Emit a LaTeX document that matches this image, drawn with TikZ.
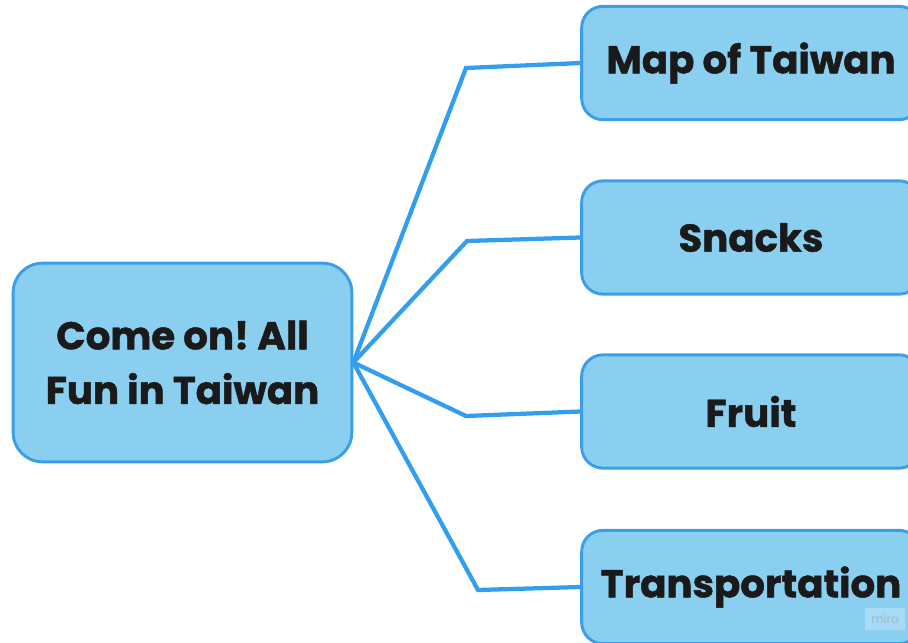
\documentclass[tikz,border=0pt]{standalone}
\usepackage{fontspec}
\setmainfont{Poppins}
\newfontfamily\heavyfont{Poppins}[BoldFeatures={FakeBold=1.2}]
\definecolor{boxfill}{HTML}{8ACFF0}
\definecolor{boxline}{HTML}{3A9FE8}
\definecolor{wire}{HTML}{349EEE}
\definecolor{ink}{HTML}{1A1A1A}
\tikzset{
  topic/.style={draw=boxline, line width=2.2pt, fill=boxfill, text=ink,
    font=\heavyfont\fontsize{29}{41}\selectfont\bfseries\frenchspacing, align=center, inner sep=0pt},
  maintopic/.style={topic, rounded corners=22pt, minimum width=254pt, minimum height=149pt},
  subtopic/.style={topic, rounded corners=16pt, minimum width=254pt, minimum height=85pt},
  wireline/.style={draw=wire, line width=3.2pt, line join=miter}
}
\begin{document}
\begin{tikzpicture}[x=0.75pt, y=-0.75pt]
\useasboundingbox (0,0) rectangle (908,643);
\clip (0,0) rectangle (908,643);
\node[maintopic] (main) at (182.5,362.5) {Come on! All\\Fun in Taiwan};
\node[subtopic] (map) at (751,63) {Map of Taiwan};
\node[subtopic] (snacks) at (751,237.5) {Snacks};
\node[subtopic] (fruit) at (751,411.5) {Fruit};
\node[subtopic] (trans) at (751,587) {Transportation};
\coordinate (e1) at (466,68);
\coordinate (e2) at (467,241);
\coordinate (e3) at (466,416);
\coordinate (e4) at (478,590);
\draw[wireline] (main.east) -- (e1) -- (map.west);
\draw[wireline] (main.east) -- (e2) -- (snacks.west);
\draw[wireline] (main.east) -- (e3) -- (fruit.west);
\draw[wireline] (main.east) -- (e4) -- (trans.west);
\node[fill=white, fill opacity=0.25, text opacity=0.35, text=gray, font=\fontsize{9}{10}\selectfont, inner sep=2pt, minimum width=30pt, minimum height=16pt] (miro) at (885,619) {miro};
\end{tikzpicture}
\end{document}
